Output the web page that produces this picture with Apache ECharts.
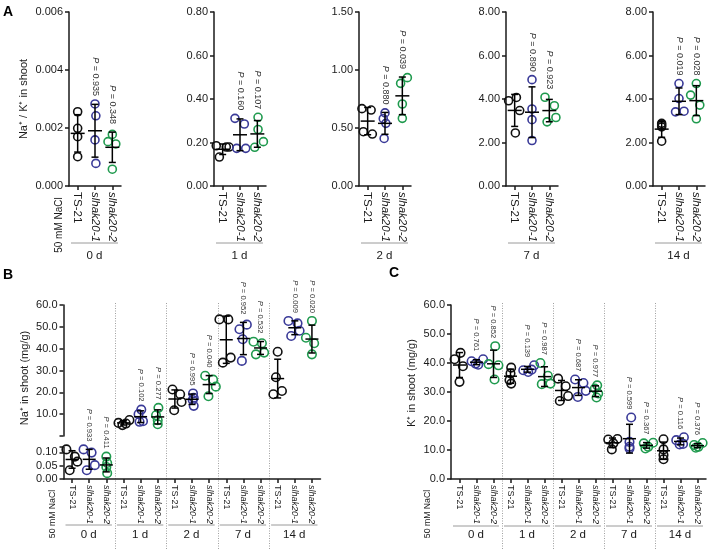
<!DOCTYPE html>
<html>
<head>
<meta charset="utf-8">
<script src="https://cdn.jsdelivr.net/npm/echarts@6/dist/echarts.min.js"></script>
<style>
  html, body { margin: 0; padding: 0; background: #fff; }
  #chart { width: 709px; height: 550px; }
</style>
</head>
<body>
<div id="chart"></div>
<script>
const genotypes = ['TS-21', 'slhak20-1', 'slhak20-2'];
const days = ['0 d', '1 d', '2 d', '7 d', '14 d'];

// A: Na+/K+ in shoot, 4 plants per genotype, one row per day
const ratioTS21 = [
  [0.00256, 0.00199, 0.00170, 0.00101],
  [0.185, 0.133, 0.179, 0.179],
  [0.667, 0.655, 0.468, 0.448],
  [3.92, 4.07, 3.47, 2.44],
  [2.88, 2.80, 2.72, 2.06]
];
const ratioHak1 = [
  [0.00283, 0.00242, 0.00159, 0.00078],
  [0.311, 0.285, 0.173, 0.173],
  [0.63, 0.58, 0.54, 0.41],
  [4.89, 3.54, 3.05, 2.09],
  [4.71, 4.02, 3.41, 3.44]
];
const ratioHak2 = [
  [0.00178, 0.00153, 0.00145, 0.00058],
  [0.316, 0.260, 0.204, 0.178],
  [0.934, 0.885, 0.707, 0.583],
  [4.08, 3.69, 2.95, 3.15],
  [4.71, 4.18, 3.72, 3.09]
];
const ratioP = [['0.935', '0.348'], ['0.160', '0.107'], ['0.880', '0.039'], ['0.890', '0.923'], ['0.019', '0.028']];
const ratioMax = [0.006, 0.8, 1.5, 8, 8];
const ratioStep = [0.002, 0.2, 0.5, 2, 2];
const ratioDec = [3, 2, 2, 2, 2];

// B: Na+ in shoot (mg/g)
const naTS21 = [
  [0.111, 0.084, 0.065, 0.033],
  [6.0, 5.0, 5.7, 7.3],
  [21.3, 19.1, 15.6, 11.8],
  [53.4, 53.4, 33.6, 35.9],
  [38.6, 26.9, 19.1, 20.6]
];
const naHak1 = [
  [0.111, 0.099, 0.052, 0.033],
  [12.1, 10.0, 6.5, 6.8],
  [19.5, 17.5, 16.5, 13.8],
  [51.0, 48.9, 44.3, 34.4],
  [52.7, 51.6, 48.2, 45.8]
];
const naHak2 = [
  [0.084, 0.060, 0.045, 0.022],
  [12.9, 9.5, 7.2, 5.4],
  [27.6, 25.8, 22.6, 18.2],
  [43.2, 42.5, 38.2, 37.4],
  [52.7, 45.0, 42.5, 37.4]
];
const naP = [['0.933', '0.411'], ['0.102', '0.277'], ['0.995', '0.040'], ['0.952', '0.532'], ['0.009', '0.020']];

// C: K+ in shoot (mg/g)
const kTS21 = [
  [41.3, 43.5, 38.9, 33.5],
  [38.4, 36.4, 34.1, 32.9],
  [34.6, 32.0, 28.6, 26.9],
  [13.6, 13.8, 12.3, 10.2],
  [13.7, 10.2, 8.3, 6.8]
];
const kHak1 = [
  [40.6, 41.3, 39.8, 39.4],
  [37.5, 36.9, 39.2, 37.7],
  [34.3, 33.1, 30.4, 28.3],
  [21.2, 12.8, 11.1, 10.5],
  [13.4, 14.4, 11.9, 12.1]
];
const kHak2 = [
  [45.8, 39.6, 39.2, 34.3],
  [40.0, 35.6, 32.7, 32.9],
  [32.3, 31.2, 29.5, 28.1],
  [12.3, 12.5, 11.1, 10.5],
  [11.7, 12.4, 11.1, 10.8]
];
const kP = [['0.761', '0.852'], ['0.139', '0.987'], ['0.687', '0.977'], ['0.599', '0.367'], ['0.116', '0.376']];

// sideways spread of the dots in a column (in column widths), per day / genotype
const ratioJitter = [
  [[0, 0, 0, 0], [0, 0.05, 0, 0.05], [0, -0.25, 0.2, 0]],
  [[-0.37, -0.19, 0.21, 0.37], [-0.29, 0.25, -0.19, 0.33], [0.04, 0.04, 0.35, -0.15]],
  [[-0.33, 0.2, -0.25, 0.27], [0, -0.1, 0.05, -0.05], [0.29, -0.1, 0, 0]],
  [[-0.35, 0.1, 0.29, 0.04], [0, 0, 0, 0], [-0.25, 0.29, -0.13, 0.38]],
  [[0, 0, 0, 0], [0, 0, -0.2, 0.29], [0, -0.33, 0.2, 0]]
];
const naJitter = [
  [[-0.33, 0.16, 0.31, -0.14], [-0.33, 0.14, 0.33, -0.14], [0, 0.05, 0, 0.05]],
  [[-0.29, -0.06, 0.14, 0.35], [0.04, -0.12, -0.06, 0.14], [0.04, -0.1, 0, 0]],
  [[-0.14, 0.31, 0.39, -0.04], [0.06, 0.1, 0.04, 0.1], [-0.23, 0.23, 0.39, -0.04]],
  [[-0.4, 0.12, -0.2, 0.26], [0.2, -0.23, -0.04, -0.09], [-0.41, 0.08, 0.21, -0.27]],
  [[0, -0.1, -0.25, 0.25], [-0.37, 0.16, 0.28, -0.21], [0, -0.35, 0.13, 0]]
];
const kJitter = [
  [[-0.29, 0.06, 0.2, 0], [-0.29, 0.39, -0.05, 0.1], [0.1, -0.29, 0.29, 0.06]],
  [[0.04, 0, -0.06, 0.04], [-0.25, 0.04, 0.39, 0.24], [-0.24, 0.2, -0.16, 0.35]],
  [[-0.2, 0.25, 0.39, -0.1], [-0.2, 0.29, 0.43, -0.04], [0.1, -0.04, 0.16, 0.06]],
  [[-0.25, 0.29, 0.05, -0.04], [0.1, 0, 0, 0], [-0.16, 0.39, 0.1, -0.06]],
  [[0, 0, 0, 0], [-0.25, 0.2, -0.05, 0.15], [-0.2, 0.3, 0.05, -0.1]]
];

const FONT = '"Liberation Sans", Arial, sans-serif';
const INK = '#1a1a1a';
const colors = ['#111111', '#3a3a98', '#1f9a4e'];

const chart = echarts.init(document.getElementById('chart'), null, { renderer: 'canvas' });
const option = { animation: false, backgroundColor: '#fff', grid: [], xAxis: [], yAxis: [], series: [] };

function mean(v) { return v.reduce((a, b) => a + b, 0) / v.length; }
function sd(v) {
  const m = mean(v);
  return Math.sqrt(v.reduce((s, x) => s + (x - m) * (x - m), 0) / (v.length - 1));
}

function catLabel(fs) {
  return {
    interval: 0, rotate: -90, margin: 6, fontSize: fs, fontFamily: FONT, color: INK,
    formatter: v => v.indexOf('sl') === 0 ? '{i|' + v + '}' : v,
    rich: { i: { fontStyle: 'italic', fontSize: fs, fontFamily: FONT, color: INK } }
  };
}

// one plotting frame: grid + category axis (labels) + value x axis (dots) + y axis
function addFrame(box, cats, showCats, catFs, y) {
  const g = option.grid.length;
  option.grid.push({ left: box[0], top: box[1], width: box[2], height: box[3], containLabel: false, outerBoundsMode: 'none' });
  option.xAxis.push({
    type: 'category', gridIndex: g, data: cats, show: showCats, boundaryGap: true,
    axisLine: { show: true, lineStyle: { color: INK, width: 1.5 } },
    axisTick: { show: true, alignWithLabel: true, length: 4, lineStyle: { color: INK, width: 1.5 } },
    axisLabel: catLabel(catFs), splitLine: { show: false }
  });
  option.xAxis.push({ type: 'value', gridIndex: g, min: -0.5, max: cats.length - 0.5, show: false });
  option.yAxis.push(Object.assign({
    type: 'value', gridIndex: g, splitLine: { show: false },
    axisLine: { show: true, onZero: false, lineStyle: { color: INK, width: 1.5 } },
    axisTick: { show: true, length: 4, lineStyle: { color: INK, width: 1.5 } },
    nameLocation: 'middle', nameRotate: 90, nameMoveOverlap: false,
    nameTextStyle: { fontSize: 11, fontFamily: FONT, color: INK }
  }, y, {
    axisLabel: Object.assign({ fontSize: 11, fontFamily: FONT, color: INK, margin: 6 }, y.axisLabel)
  }));
  return { g: g, xCat: option.xAxis.length - 2, xVal: option.xAxis.length - 1, y: option.yAxis.length - 1 };
}

function errRender(st) {
  return function (params, api) {
    const x = api.value(0);
    const pm = api.coord([x, api.value(1)]);
    const pl = api.coord([x, api.value(2)]);
    const ph = api.coord([x, api.value(3)]);
    const line = { stroke: '#000', lineWidth: 1.5 };
    return {
      type: 'group', children: [
        { type: 'line', shape: { x1: pm[0], y1: ph[1], x2: pm[0], y2: pl[1] }, style: line },
        { type: 'line', shape: { x1: pm[0] - st.bar, y1: pm[1], x2: pm[0] + st.bar, y2: pm[1] }, style: line },
        { type: 'line', shape: { x1: pm[0] - st.cap, y1: ph[1], x2: pm[0] + st.cap, y2: ph[1] }, style: line },
        { type: 'line', shape: { x1: pm[0] - st.cap, y1: pl[1], x2: pm[0] + st.cap, y2: pl[1] }, style: line }
      ]
    };
  };
}

function pRender(texts, st) {
  return function (params, api) {
    const pt = api.coord([api.value(0), api.value(1)]);
    return {
      type: 'text', x: pt[0], y: pt[1] - 8, rotation: -Math.PI / 2,
      style: {
        text: '{i|P} = ' + texts[params.dataIndex], fontSize: st.pfs, fontFamily: FONT, fill: '#333',
        align: 'right', verticalAlign: 'middle',
        rich: { i: { fontStyle: 'italic', fontSize: st.pfs, fontFamily: FONT, fill: '#333' } }
      }
    };
  };
}

function addDay(frame, slot, d, sets, jit, pv, st) {
  const bars = [], tops = [];
  sets.forEach((set, k) => {
    const vals = set[d];
    const x = slot * 3 + k;
    option.series.push({
      type: 'scatter', xAxisIndex: frame.xVal, yAxisIndex: frame.y, silent: true, clip: false,
      symbol: 'circle', symbolSize: st.dot, z: 2,
      itemStyle: { color: 'rgba(0,0,0,0)', borderColor: colors[k], borderWidth: 1.6, opacity: 1 },
      data: vals.map((v, i) => [x + jit[d][k][i], v])
    });
    const m = mean(vals), s = sd(vals);
    bars.push([x, m, m - s, m + s]);
    if (k > 0) tops.push([x, Math.max(m + s, Math.max.apply(null, vals))]);
  });
  option.series.push({
    type: 'custom', xAxisIndex: frame.xVal, yAxisIndex: frame.y, silent: true, clip: false, z: 3,
    renderItem: errRender(st), data: bars
  });
  option.series.push({
    type: 'custom', xAxisIndex: frame.xVal, yAxisIndex: frame.y, silent: true, clip: false, z: 4,
    renderItem: pRender(pv[d], st), data: tops
  });
}

// ---- panel A: five small frames
const aLeft = [69, 214, 359, 506, 653];
const aStyle = { dot: 8, bar: 7, cap: 3.5, pfs: 9 };
const aFrames = [];
days.forEach((day, d) => {
  const f = addFrame([aLeft[d], 12, 52, 174], genotypes, true, 11.5, {
    min: 0, max: ratioMax[d], interval: ratioStep[d],
    name: d === 0 ? 'Na⁺ / K⁺ in shoot' : '', nameGap: 40,
    axisLabel: { formatter: v => v.toFixed(ratioDec[d]) }
  });
  aFrames.push(f);
  addDay(f, 0, d, [ratioTS21, ratioHak1, ratioHak2], ratioJitter, ratioP, aStyle);
});

// ---- panel B: broken y axis, upper part for 1-14 d, lower part for 0 d
const allCats = [];
days.forEach(() => genotypes.forEach(g => allCats.push(g)));
const bcStyle = { dot: 8.5, bar: 6.5, cap: 3.5, pfs: 7.6 };
const bUp = addFrame([63.5, 305, 257, 131], allCats, false, 9, {
  min: 0, max: 60, interval: 10,
  axisLabel: { formatter: v => v === 0 ? '' : v.toFixed(1) }
});
const bLow = addFrame([63.5, 447, 257, 32], allCats, true, 9, {
  min: 0, max: 0.12, interval: 0.05,
  axisLabel: { formatter: v => v > 0.11 ? '' : v.toFixed(2) }
});
addDay(bLow, 0, 0, [naTS21, naHak1, naHak2], naJitter, naP, bcStyle);
for (let d = 1; d < days.length; d++) addDay(bUp, d, d, [naTS21, naHak1, naHak2], naJitter, naP, bcStyle);

// ---- panel C
const cFrame = addFrame([451, 305, 255, 174], allCats, true, 9, {
  min: 0, max: 60, interval: 10,
  axisLabel: { formatter: v => v.toFixed(1) }
});
for (let d = 0; d < days.length; d++) addDay(cFrame, d, d, [kTS21, kHak1, kHak2], kJitter, kP, bcStyle);

chart.setOption(option);

// ---- decorations placed from the axes
const gfx = [];
function px(frame, v) { return chart.convertToPixel({ xAxisIndex: frame.xVal }, v); }
function dayMark(frame, slot, d, lineY, textY) {
  const x1 = px(frame, slot * 3 - 0.5) + 2, x2 = px(frame, slot * 3 + 2.5) - 3;
  gfx.push({ type: 'line', silent: true, shape: { x1: x1, y1: lineY, x2: x2, y2: lineY }, style: { stroke: '#9a9a9a', lineWidth: 1 } });
  gfx.push({ type: 'text', silent: true, x: (x1 + x2) / 2, y: textY,
    style: { text: days[d], fontSize: 11.5, fontFamily: FONT, fill: INK, align: 'center', verticalAlign: 'middle' } });
}
function separators(frame) {
  for (let s = 1; s < days.length; s++) {
    const x = Math.round(px(frame, s * 3 - 0.5)) + 0.5;
    gfx.push({ type: 'line', silent: true, shape: { x1: x, y1: 303, x2: x, y2: 550 },
      style: { stroke: '#a0a0a0', lineWidth: 1, lineDash: [1, 1.5] } });
  }
}
function vtext(str, x, y, fs) {
  gfx.push({ type: 'text', silent: true, x: x, y: y, rotation: Math.PI / 2,
    style: { text: str, fontSize: fs, fontFamily: FONT, fill: INK, align: 'center', verticalAlign: 'middle' } });
}
function letter(str, x, y) {
  gfx.push({ type: 'text', silent: true, x: x, y: y,
    style: { text: str, fontSize: 14, fontWeight: 'bold', fontFamily: FONT, fill: '#000', align: 'left', verticalAlign: 'top' } });
}

aFrames.forEach((f, d) => dayMark(f, 0, d, 243, 256));
days.forEach((day, d) => dayMark(bLow, d, d, 525, 535));
days.forEach((day, d) => dayMark(cFrame, d, d, 526, 535));
separators(bLow);
separators(cFrame);
vtext('Na⁺ in shoot (mg/g)', 25, 378, 11);
vtext('K⁺ in shoot (mg/g)', 412, 383, 11);
vtext('50 mM NaCl', 59, 225, 10);
vtext('50 mM NaCl', 52.5, 514, 8.7);
vtext('50 mM NaCl', 428, 514, 8.7);
letter('A', 3, 5);
letter('B', 3, 268);
letter('C', 389, 266);

chart.setOption({ graphic: gfx });
</script>
</body>
</html>
